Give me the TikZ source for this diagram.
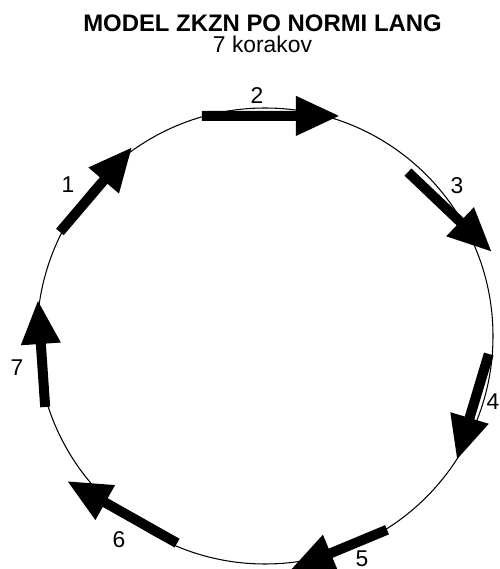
\documentclass[tikz,border=0pt]{standalone}
\usepackage{fontspec}
\setmainfont{Liberation Sans}
\usetikzlibrary{arrows.meta}
\tikzset{korak/.style = {line width = 0.2cm,
                         -{Triangle[length = 0.88cm, width = 0.74cm]}}}
\tikzset{oznaka/.style = {font = \fontsize{13}{15}\selectfont, inner sep = 1pt}}

\begin{document}
\begin{tikzpicture}
    \useasboundingbox (0, 0) rectangle (9.98, 11.38);

    \node (naslov) [anchor = base, font = \bfseries\fontsize{13.6}{16}\selectfont] at (5.25, 10.74) {MODEL ZKZN PO NORMI LANG};
    \node (podnaslov) [oznaka, anchor = base] at (5.25, 10.32) {7 korakov};

    \coordinate (o) at (5.3, 4.66);
    \draw [line width = 0.6pt] (o) circle (4.56);

    \coordinate (z1) at ([shift={(153.1:4.60)}]o);
    \coordinate (k1) at ([shift={(125.1:4.62)}]o);
    \coordinate (z2) at ([shift={(106:4.58)}]o);
    \coordinate (k2) at ([shift={(71.2:4.65)}]o);
    \coordinate (z3) at ([shift={(48.9:4.35)}]o);
    \coordinate (k3) at ([shift={(20.3:4.84)}]o);
    \coordinate (z4) at ([shift={(-4.6:4.49)}]o);
    \coordinate (k4) at ([shift={(-32.9:4.57)}]o);
    \coordinate (z5) at ([shift={(-57.8:4.58)}]o);
    \coordinate (k5) at ([shift={(-83.9:4.71)}]o);
    \coordinate (z6) at ([shift={(-113:4.50)}]o);
    \coordinate (k6) at ([shift={(-143.8:4.91)}]o);
    \coordinate (z7) at ([shift={(-162.1:4.62)}]o);
    \coordinate (k7) at ([shift={(171:4.60)}]o);

    \draw [korak] (z1) -- (k1);
    \draw [korak] (z2) -- (k2);
    \draw [korak] (z3) -- (k3);
    \draw [korak] (z4) -- (k4);
    \draw [korak] (z5) -- (k5);
    \draw [korak] (z6) -- (k6);
    \draw [korak] (z7) -- (k7);

    \node (n1) [oznaka] at (1.36, 7.68) {1};
    \node (n2) [oznaka] at (5.14, 9.46) {2};
    \node (n3) [oznaka] at (9.14, 7.66) {3};
    \node (n4) [oznaka] at (9.86, 3.34) {4};
    \node (n5) [oznaka] at (7.24, 0.21) {5};
    \node (n6) [oznaka] at (2.38, 0.58) {6};
    \node (n7) [oznaka] at (0.34, 4.02) {7};
\end{tikzpicture}
\end{document}
